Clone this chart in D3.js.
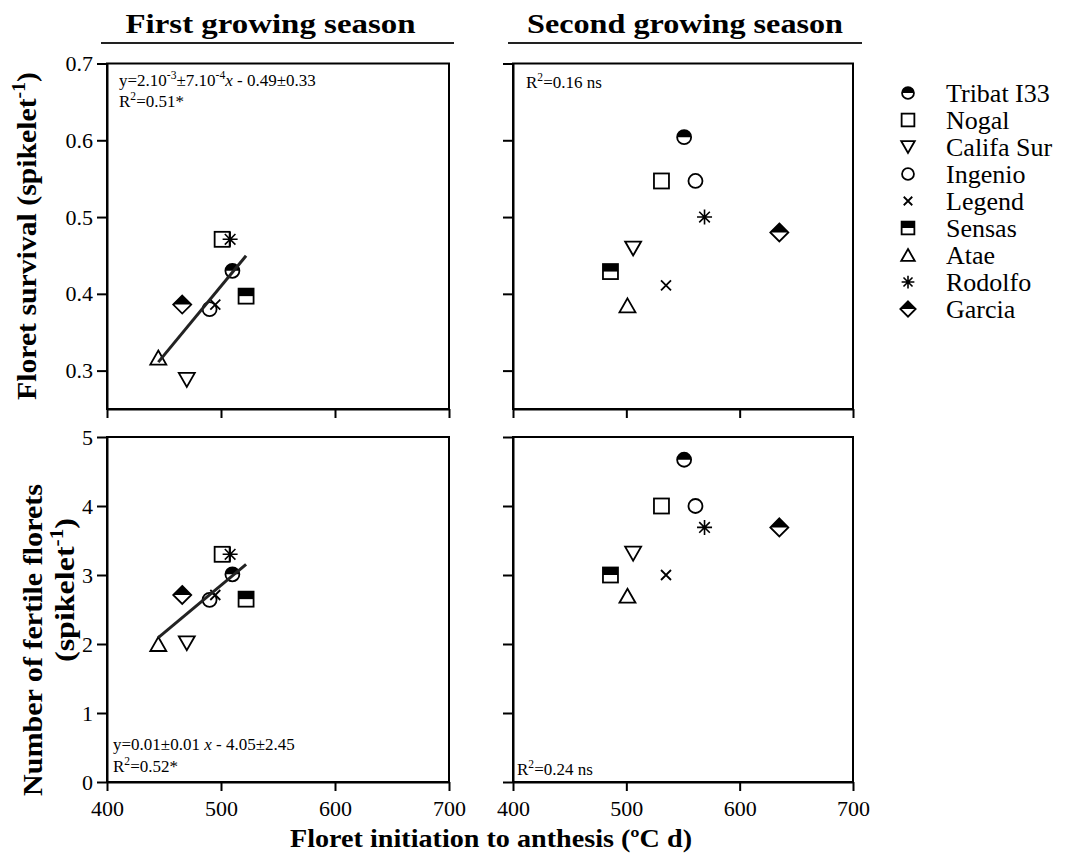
<!DOCTYPE html>
<html>
<head>
<meta charset="utf-8">
<script src="https://cdn.jsdelivr.net/npm/d3@7"></script>
<style>
body { margin: 0; background: #fff; }
text { font-family: "Liberation Serif", "Times New Roman", serif; fill: #000; }
</style>
</head>
<body>
<div class="chart"></div>
<script>
// cultivars, same order in every array below
var cultivars = ["Tribat I33", "Nogal", "Califa Sur", "Ingenio", "Legend", "Sensas", "Atae", "Rodolfo", "Garcia"];

// floret initiation to anthesis (ºC d)
var durS1 = [510, 501, 470, 490, 495, 522, 445, 508, 466];
var durS2 = [551, 531, 506, 561, 535, 486, 501, 569, 635];

// floret survival (spikelet-1)
var survS1 = [0.43, 0.471, 0.288, 0.38, 0.386, 0.397, 0.317, 0.471, 0.386];
var survS2 = [0.604, 0.547, 0.459, 0.547, 0.411, 0.429, 0.385, 0.5, 0.48];

// number of fertile florets (spikelet-1)
var fertS1 = [3.01, 3.3, 2.01, 2.64, 2.71, 2.65, 2.0, 3.3, 2.71];
var fertS2 = [4.67, 4.0, 3.31, 4.0, 3.0, 3.0, 2.7, 3.69, 3.69];

// regression lines of the first season [slope, intercept]
var fitSurvS1 = [0.0018, -0.49];
var fitFertS1 = [0.0138, -4.05];

var xTicks = [400, 500, 600, 700];
var survTicks = [0.3, 0.4, 0.5, 0.6, 0.7];
var fertTicks = [0, 1, 2, 3, 4, 5];

var seasons = ["First growing season", "Second growing season"];

// marker per cultivar
var shapes = ["halfCircle", "square", "triDown", "circle", "cross", "halfSquare", "triUp", "asterisk", "halfDiamond"];

var svg = d3.select(".chart").append("svg")
  .attr("width", 1067)
  .attr("height", 854);

svg.append("rect").attr("width", 1067).attr("height", 854).attr("fill", "#fff");

var xScales = [
  d3.scaleLinear().domain([400, 700]).range([107, 449]),
  d3.scaleLinear().domain([400, 700]).range([513, 853])
];
var ySurv = d3.scaleLinear().domain([0.25, 0.7]).range([409, 63.5]);
var yFert = d3.scaleLinear().domain([0, 5]).range([782, 437]);

function drawShape(g, shape, k) {
  var sw = 1.8;
  if (shape == "circle" || shape == "halfCircle") {
    var r = 7 * k;
    g.append("circle").attr("r", r).attr("fill", "none").attr("stroke", "#000").attr("stroke-width", sw);
    if (shape == "halfCircle") {
      g.append("path").attr("d", `M${-r},0A${r},${r} 0 0 1 ${r},0Z`).attr("fill", "#000");
    }
  } else if (shape == "square" || shape == "halfSquare") {
    var s = 7.5 * k;
    g.append("rect").attr("x", -s).attr("y", -s).attr("width", 2 * s).attr("height", 2 * s)
      .attr("fill", "#fff").attr("stroke", "#000").attr("stroke-width", sw);
    if (shape == "halfSquare") {
      g.append("rect").attr("x", -s).attr("y", -s).attr("width", 2 * s).attr("height", s).attr("fill", "#000");
    }
  } else if (shape == "triDown") {
    g.append("path").attr("d", `M${-8 * k},${-7 * k}L${8 * k},${-7 * k}L0,${7 * k}Z`)
      .attr("fill", "#fff").attr("stroke", "#000").attr("stroke-width", sw);
  } else if (shape == "triUp") {
    g.append("path").attr("d", `M0,${-7 * k}L${8 * k},${7 * k}L${-8 * k},${7 * k}Z`)
      .attr("fill", "none").attr("stroke", "#000").attr("stroke-width", sw);
  } else if (shape == "cross") {
    var c = 5 * k;
    g.append("path").attr("d", `M${-c},${-c}L${c},${c}M${-c},${c}L${c},${-c}`)
      .attr("stroke", "#000").attr("stroke-width", sw);
  } else if (shape == "asterisk") {
    var a = 7.5 * k, d = a * 0.707;
    g.append("path").attr("d", `M0,${-a}L0,${a}M${-a},0L${a},0M${-d},${-d}L${d},${d}M${-d},${d}L${d},${-d}`)
      .attr("stroke", "#000").attr("stroke-width", 1.6);
  } else if (shape == "halfDiamond") {
    var m = 9 * k;
    g.append("path").attr("d", `M0,${-m}L${m},0L0,${m}L${-m},0Z`)
      .attr("fill", "#fff").attr("stroke", "#000").attr("stroke-width", sw);
    g.append("path").attr("d", `M${-m},0L0,${-m}L${m},0Z`).attr("fill", "#000");
  }
}

var panels = [
  { col: 0, y: ySurv, ticks: survTicks, fmt: d3.format(".1f"), xv: durS1, yv: survS1, fit: fitSurvS1, xLabels: false },
  { col: 1, y: ySurv, ticks: survTicks, fmt: () => "", xv: durS2, yv: survS2, fit: null, xLabels: false },
  { col: 0, y: yFert, ticks: fertTicks, fmt: d3.format("d"), xv: durS1, yv: fertS1, fit: fitFertS1, xLabels: true },
  { col: 1, y: yFert, ticks: fertTicks, fmt: () => "", xv: durS2, yv: fertS2, fit: null, xLabels: true }
];

panels.forEach(function(p) {
  var x = xScales[p.col];
  var y = p.y;
  var g = svg.append("g");
  var x0 = x.range()[0], x1 = x.range()[1];
  var yb = y.range()[0], yt = y.range()[1];

  // frame
  g.append("rect")
    .attr("x", x0).attr("y", yt)
    .attr("width", x1 - x0).attr("height", yb - yt)
    .attr("fill", "none").attr("stroke", "#000").attr("stroke-width", 2);

  var xAxis = d3.axisBottom(x).tickValues(xTicks).tickSize(9).tickPadding(9).tickSizeOuter(0);
  if (!p.xLabels) xAxis.tickFormat("");
  var gx = g.append("g").attr("transform", `translate(0, ${yb})`).call(xAxis);

  var yAxis = d3.axisLeft(y).tickValues(p.ticks).tickSize(10).tickPadding(4).tickSizeOuter(0).tickFormat(p.fmt);
  var gy = g.append("g").attr("transform", `translate(${x0}, 0)`).call(yAxis);

  [gx, gy].forEach(function(a) {
    a.select(".domain").attr("stroke-width", 2);
    a.selectAll(".tick line").attr("stroke-width", 2);
    a.selectAll("text").attr("font-size", 22).attr("font-family", "Liberation Serif, serif");
  });

  // points
  p.xv.forEach(function(v, i) {
    var m = g.append("g").attr("transform", `translate(${x(v)}, ${y(p.yv[i])})`);
    drawShape(m, shapes[i], 1);
  });

  if (p.fit) {
    var xa = d3.min(p.xv), xb = d3.max(p.xv);
    g.append("line")
      .attr("x1", x(xa)).attr("y1", y(p.fit[0] * xa + p.fit[1]))
      .attr("x2", x(xb)).attr("y2", y(p.fit[0] * xb + p.fit[1]))
      .attr("stroke", "#222").attr("stroke-width", 3);
  }
});

// annotations
function supText(x, y, parts, size) {
  var tx = svg.append("text").attr("x", x).attr("y", y).attr("font-size", size);
  parts.forEach(function(pt) {
    var s = tx.append("tspan").text(pt.t);
    if (pt.sup) s.attr("font-size", size * 0.68).attr("dy", -size * 0.4);
    if (pt.back) s.attr("dy", size * 0.4);
    if (pt.it) s.attr("font-style", "italic");
  });
  return tx;
}

supText(119, 86, [
  { t: "y=2.10" }, { t: "-3", sup: true }, { t: "±7.10", back: true }, { t: "-4", sup: true },
  { t: "x", it: true, back: true }, { t: " - 0.49±0.33" }
], 17);
supText(119, 107, [{ t: "R" }, { t: "2", sup: true }, { t: "=0.51*", back: true }], 17);

supText(526, 88, [{ t: "R" }, { t: "2", sup: true }, { t: "=0.16 ns", back: true }], 17);

supText(113, 750, [{ t: "y=0.01±0.01 " }, { t: "x", it: true }, { t: " - 4.05±2.45" }], 17);
supText(113, 772, [{ t: "R" }, { t: "2", sup: true }, { t: "=0.52*", back: true }], 17);

supText(517, 775, [{ t: "R" }, { t: "2", sup: true }, { t: "=0.24 ns", back: true }], 17);

// season headings
var headX = [[101, 454], [508, 862]];
var headW = [290, 316];
seasons.forEach(function(s, i) {
  var cx = (headX[i][0] + headX[i][1]) / 2 - (i == 0 ? 7 : 0);
  svg.append("text")
    .attr("x", cx).attr("y", 33)
    .attr("text-anchor", "middle")
    .attr("font-size", 28).attr("font-weight", "bold")
    .attr("textLength", headW[i]).attr("lengthAdjust", "spacingAndGlyphs")
    .text(s);
  svg.append("line")
    .attr("x1", headX[i][0]).attr("x2", headX[i][1])
    .attr("y1", 43).attr("y2", 43)
    .attr("stroke", "#222").attr("stroke-width", 2);
});

// axis titles
var yt1 = svg.append("text")
  .attr("transform", "translate(36, 236) rotate(-90)")
  .attr("text-anchor", "middle")
  .attr("font-size", 27).attr("font-weight", "bold")
  .attr("textLength", 328).attr("lengthAdjust", "spacingAndGlyphs");
yt1.append("tspan").text("Floret survival (spikelet");
yt1.append("tspan").text("-1").attr("font-size", 18).attr("dy", -11);
yt1.append("tspan").text(")").attr("dy", 11);

svg.append("text")
  .attr("transform", "translate(42, 640) rotate(-90)")
  .attr("text-anchor", "middle")
  .attr("font-size", 27).attr("font-weight", "bold")
  .attr("textLength", 312).attr("lengthAdjust", "spacingAndGlyphs")
  .text("Number of fertile florets");

var yt2 = svg.append("text")
  .attr("transform", "translate(74, 590) rotate(-90)")
  .attr("text-anchor", "middle")
  .attr("font-size", 27).attr("font-weight", "bold")
  .attr("textLength", 144).attr("lengthAdjust", "spacingAndGlyphs");
yt2.append("tspan").text("(spikelet");
yt2.append("tspan").text("-1").attr("font-size", 18).attr("dy", -11);
yt2.append("tspan").text(")").attr("dy", 11);

svg.append("text")
  .attr("x", 491).attr("y", 847)
  .attr("text-anchor", "middle")
  .attr("font-size", 25).attr("font-weight", "bold")
  .attr("textLength", 402).attr("lengthAdjust", "spacingAndGlyphs")
  .text("Floret initiation to anthesis (ºC d)");

// legend
var ly = d3.scalePoint().domain(cultivars).range([93, 309]);
var legend = svg.append("g");
cultivars.forEach(function(c, i) {
  var row = legend.append("g").attr("transform", `translate(908, ${ly(c)})`);
  drawShape(row, shapes[i], 0.85);
  row.append("text")
    .attr("x", 38).attr("dy", "0.33em")
    .attr("font-size", 26)
    .text(c);
});
</script>
</body>
</html>
